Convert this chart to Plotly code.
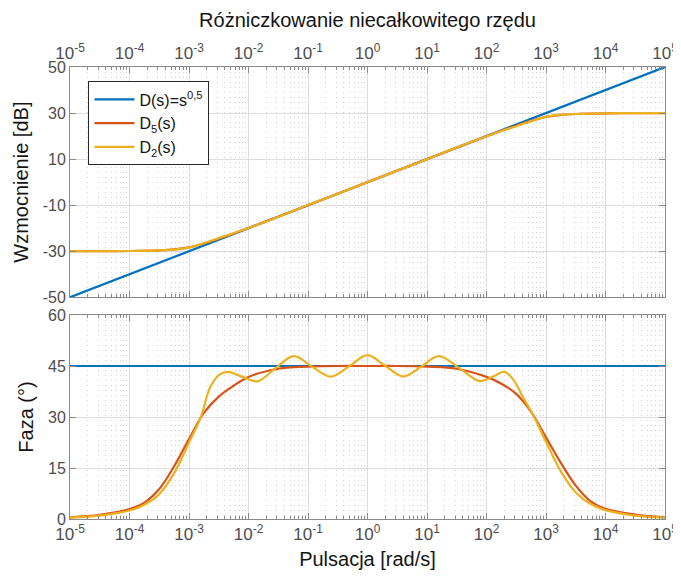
import plotly.graph_objects as go

# ---------------- data ----------------
# frequency points given as log10(omega [rad/s])
exp_ref = [-5, -4, -3, -2, -1, 0, 1, 2, 3, 4, 5]
mag_ref = [-50, -40, -30, -20, -10, 0, 10, 20, 30, 40, 50]
phase_ref = [45, 45, 45, 45, 45, 45, 45, 45, 45, 45, 45]

exp_mag = [-5, -4.5, -4, -3.5, -3.25, -3, -2.75, -2.5, -2.25, -2, -1.5, -1, -0.5,
           0, 0.5, 1, 1.5, 2, 2.25, 2.5, 2.75, 3, 3.25, 3.5, 4, 4.5, 5]
mag_d5 = [-30.0, -30.0, -29.9, -29.6, -29.2, -28.3, -26.6, -24.5, -22.3, -19.9, -15.0, -10.0, -5.0,
          0.0, 5.0, 10.0, 15.0, 19.9, 22.3, 24.5, 26.6, 28.3, 29.2, 29.6, 29.9, 30.0, 30.0]
mag_d2 = [-30.0, -30.0, -29.9, -29.6, -29.3, -28.4, -26.5, -24.3, -22.2, -19.9, -15.1, -9.9, -5.0,
          0.0, 5.0, 9.9, 15.1, 19.9, 22.2, 24.3, 26.5, 28.4, 29.3, 29.6, 29.9, 30.0, 30.0]

exp_ph5 = [-5, -4.5, -4, -3.75, -3.5, -3.25, -3, -2.75, -2.5, -2.25, -2, -1.5, -1, -0.5,
           0, 0.5, 1, 1.5, 2, 2.25, 2.5, 2.75, 3, 3.25, 3.5, 3.75, 4, 4.5, 5]
phase_d5 = [0.5, 1.2, 2.9, 4.8, 8.8, 15.5, 23.5, 31.2, 36.0, 39.2, 41.8, 44.2, 44.8, 45.0,
            45.0, 45.0, 44.8, 44.2, 41.8, 39.8, 36.8, 31.5, 24.0, 16.5, 9.8, 5.2, 3.0, 1.3, 0.5]

exp_ph2 = [-5, -4.5, -4, -3.75, -3.5, -3.25, -3, -2.8, -2.65, -2.5, -2.35, -2.1, -1.85,
           -1.55, -1.24, -0.93, -0.62, -0.3, 0, 0.3, 0.6, 0.9, 1.2, 1.55, 1.88, 2.1, 2.3,
           2.45, 2.6, 2.8, 3, 3.25, 3.5, 3.75, 4, 4.5, 5]
phase_d2 = [0.4, 1.0, 2.5, 4.2, 7.3, 13.5, 22.5, 30.0, 38.5, 42.3, 43.3, 41.8, 40.5,
            44.3, 47.9, 44.8, 41.9, 45.0, 48.2, 45.0, 41.9, 44.8, 47.9, 44.3, 40.6, 41.8, 43.3,
            41.0, 36.3, 30.0, 22.7, 14.0, 7.8, 4.4, 2.6, 1.0, 0.4]

tick_exps = [-5, -4, -3, -2, -1, 0, 1, 2, 3, 4, 5]
mag_ticks = [-50, -30, -10, 10, 30, 50]
phase_ticks = [0, 15, 30, 45, 60]

names = ["D(s)=s<sup>0,5</sup>", "D<sub>5</sub>(s)", "D<sub>2</sub>(s)"]
colors = ["#0072BD", "#D95319", "#EDB120"]

# ---------------- derived ----------------
def w(exps):
    return [10.0 ** e for e in exps]

tickvals = w(tick_exps)
ticktext = ["10<sup>%d</sup>" % e for e in tick_exps]
minor_vals = [m * 10.0 ** e for e in tick_exps[:-1] for m in range(2, 10)]

FONT = "Liberation Sans, Arial, sans-serif"
TICKC = "#4d4d4d"
LINEC = "#8a8a8a"
GRIDC = "#dcdcdc"
MGRIDC = "#d2d2d2"
TXTC = "#141414"

# the page body has an 8 px default margin, so the figure is 8 px smaller
W, H = 673, 580

fig = go.Figure()
fig.add_trace(go.Scatter(x=w(exp_ref), y=mag_ref, mode="lines", name=names[0],
                         line=dict(color=colors[0], width=2.2), xaxis="x", yaxis="y"))
fig.add_trace(go.Scatter(x=w(exp_mag), y=mag_d5, mode="lines", name=names[1],
                         line=dict(color=colors[1], width=2.2, shape="spline"), xaxis="x", yaxis="y"))
fig.add_trace(go.Scatter(x=w(exp_mag), y=mag_d2, mode="lines", name=names[2],
                         line=dict(color=colors[2], width=2.2, shape="spline"), xaxis="x", yaxis="y"))

fig.add_trace(go.Scatter(x=w(exp_ref), y=phase_ref, mode="lines", showlegend=False,
                         line=dict(color=colors[0], width=2.2), xaxis="x2", yaxis="y2"))
fig.add_trace(go.Scatter(x=w(exp_ph5), y=phase_d5, mode="lines", showlegend=False,
                         line=dict(color=colors[1], width=2.2, shape="spline"), xaxis="x2", yaxis="y2"))
fig.add_trace(go.Scatter(x=w(exp_ph2), y=phase_d2, mode="lines", showlegend=False,
                         line=dict(color=colors[2], width=2.2, shape="spline"), xaxis="x2", yaxis="y2"))

def xax(side, anchor):
    return dict(type="log", range=[-5, 5], domain=[0, 1], anchor=anchor, side=side,
                automargin=False,
                tickmode="array", tickvals=tickvals, ticktext=ticktext,
                ticks="inside", ticklen=6, tickcolor=LINEC, tickwidth=1,
                showline=True, linecolor=LINEC, linewidth=1, mirror="ticks",
                showgrid=True, gridcolor=GRIDC, gridwidth=1, zeroline=False,
                tickfont=dict(family=FONT, size=17, color=TICKC),
                minor=dict(tickmode="array", tickvals=minor_vals, ticks="inside", ticklen=3,
                           tickcolor=LINEC, showgrid=True, gridcolor=MGRIDC,
                           griddash="1px,4px", gridwidth=1))

def yax(rng, tv, domain, anchor, title):
    return dict(range=rng, domain=domain, anchor=anchor, automargin=False,
                tickmode="array", tickvals=tv, ticktext=[str(v) for v in tv],
                ticks="inside", ticklen=6, tickcolor=LINEC,
                showline=True, linecolor=LINEC, linewidth=1, mirror="ticks",
                showgrid=True, gridcolor=GRIDC, zeroline=False,
                tickfont=dict(family=FONT, size=16, color=TICKC),
                title=dict(text=title, font=dict(family=FONT, size=20, color=TXTC), standoff=8))

fig.update_layout(
    width=W, height=H,
    margin=dict(l=62, r=16, t=59, b=69),
    paper_bgcolor="white", plot_bgcolor="white",
    font=dict(family=FONT),
    title=dict(text="Różniczkowanie niecałkowitego rzędu", x=0.5, xref="paper",
               y=1 - 12 / H, yref="container", yanchor="middle", xanchor="center",
               automargin=False, pad=dict(t=0, b=0),
               font=dict(family=FONT, size=20, color=TXTC)),
    xaxis=xax("top", "y"),
    yaxis=yax([-50, 50], mag_ticks, [0.4905, 1], "x", "Wzmocnienie [dB]"),
    xaxis2=dict(xax("bottom", "y2"),
                title=dict(text="Pulsacja [rad/s]", font=dict(family=FONT, size=20, color=TXTC),
                           standoff=8)),
    yaxis2=yax([0, 60], phase_ticks, [0, 0.4513], "x2", "Faza (°)"),
    legend=dict(x=0.031, y=0.968, xanchor="left", yanchor="top", bgcolor="white",
                bordercolor="#262626", borderwidth=1,
                font=dict(family=FONT, size=16, color=TXTC),
                tracegroupgap=4, itemwidth=40),
    showlegend=True,
)

fig.write_html("out.html")
